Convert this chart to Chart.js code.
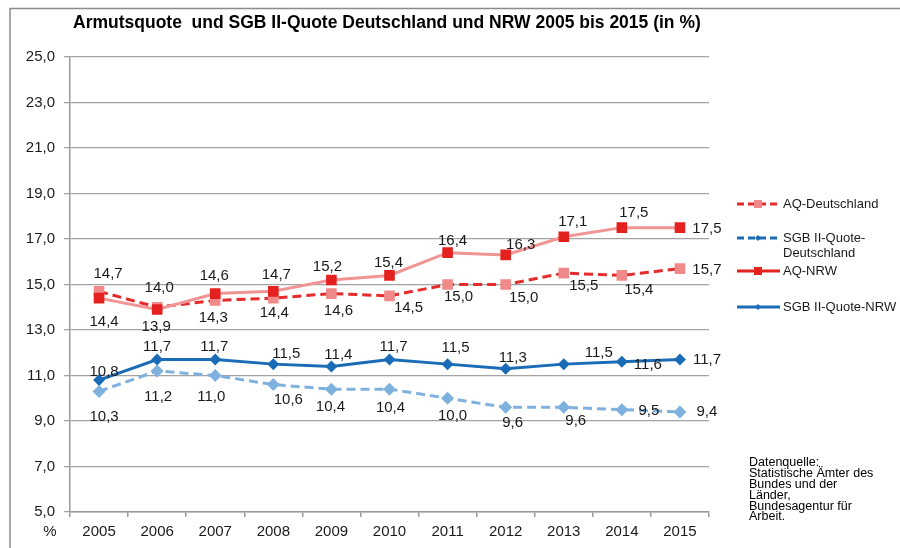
<!DOCTYPE html>
<html lang="de">
<head>
<meta charset="utf-8">
<title>Armutsquote und SGB II-Quote</title>
<script src="https://cdn.jsdelivr.net/npm/chart.js@4.4.1/dist/chart.umd.min.js"></script>
<style>
  html, body { margin: 0; padding: 0; background: #fff; }
  #chart { display: block; }
</style>
</head>
<body>
<canvas id="chart" width="900" height="548"></canvas>
<script>
// Data
const years = ['2005', '2006', '2007', '2008', '2009', '2010', '2011', '2012', '2013', '2014', '2015'];
const aqDeutschland = [14.7, 14.0, 14.3, 14.4, 14.6, 14.5, 15.0, 15.0, 15.5, 15.4, 15.7];
const sgbDeutschland = [10.3, 11.2, 11.0, 10.6, 10.4, 10.4, 10.0, 9.6, 9.6, 9.5, 9.4];
const aqNrw = [14.4, 13.9, 14.6, 14.7, 15.2, 15.4, 16.4, 16.3, 17.1, 17.5, 17.5];
const sgbNrw = [10.8, 11.7, 11.7, 11.5, 11.4, 11.7, 11.5, 11.3, 11.5, 11.6, 11.7];

const titleText = 'Armutsquote  und SGB II-Quote Deutschland und NRW 2005 bis 2015 (in %)';
const sourceLines = ['Datenquelle:', 'Statistische Ämter des', 'Bundes und der', 'Länder,', 'Bundesagentur für', 'Arbeit.'];

// Label offsets (px) from each point, as placed in the original
const offAqD = [[9,-17],[2,-19],[-2,17],[1,15],[7,17],[19,12],[11,12],[18,13],[20,13],[17,14],[27,1]];
const offSgbD = [[5,25],[1,26],[-4,21],[15,15],[-1,18],[1,19],[5,18],[7,16],[12,14],[27,1],[27,0]];
const offAqN = [[5,24],[-1,17],[-1,-18],[3,-16],[-4,-13],[-1,-13],[5,-12],[15,-10],[9,-15],[12,-15],[27,1]];
const offSgbN = [[5,-8],[0,-13],[-1,-13],[13,-10],[7,-12],[4,-13],[8,-16],[7,-11],[35,-11],[26,3],[27,0]];

const RED = '#e3221f';
const PINK_LINE = '#f19494';
const PINK_MARK = '#f08a8a';
const BLUE = '#1b6cb6';
const LIGHT_BLUE = '#7fb1de';
const TXT = '#1a1a1a';
const FONT = '"Liberation Sans", Arial, sans-serif';

const fmt = v => v.toFixed(1).replace('.', ',');

// Draws value labels next to points
const valueLabels = {
    id: 'valueLabels',
    afterDatasetsDraw(chart) {
        const ctx = chart.ctx;
        ctx.save();
        ctx.font = '15px ' + FONT;
        ctx.fillStyle = TXT;
        ctx.textAlign = 'center';
        ctx.textBaseline = 'middle';
        chart.data.datasets.forEach((ds, i) => {
            const meta = chart.getDatasetMeta(i);
            meta.data.forEach((pt, j) => {
                const o = ds.labelOffsets[j];
                ctx.fillText(fmt(ds.data[j]), pt.x + o[0], pt.y + o[1]);
            });
        });
        ctx.restore();
    }
};

// Frame, title, legend, source note and the % sign
const extras = {
    id: 'extras',
    beforeDraw(chart) {
        const ctx = chart.ctx;
        ctx.save();
        ctx.fillStyle = '#fff';
        ctx.fillRect(0, 0, chart.width, chart.height);
        ctx.strokeStyle = '#8c8c8c';
        ctx.lineWidth = 1.5;
        ctx.beginPath();
        ctx.moveTo(10, 548);
        ctx.lineTo(10, 8.5);
        ctx.lineTo(900, 8.5);
        ctx.stroke();
        ctx.restore();
    },
    afterDraw(chart) {
        const ctx = chart.ctx;
        ctx.save();

        // title
        ctx.fillStyle = '#000';
        ctx.font = 'bold 17.5px ' + FONT;
        ctx.textAlign = 'left';
        ctx.textBaseline = 'alphabetic';
        ctx.fillText(titleText, 73, 28);

        // % under the y axis
        ctx.font = '15px ' + FONT;
        ctx.fillStyle = TXT;
        ctx.textAlign = 'center';
        ctx.textBaseline = 'middle';
        ctx.fillText('%', 50, 532);

        // legend
        const items = [
            { y: 204, color: '#e52b2b', dash: [7, 4], mark: 'rect', markColor: PINK_MARK, text: ['AQ-Deutschland'] },
            { y: 238, color: BLUE, dash: [7, 4], mark: 'rectRot', markColor: BLUE, text: ['SGB II-Quote-', 'Deutschland'] },
            { y: 271, color: RED, dash: [], mark: 'rect', markColor: RED, text: ['AQ-NRW'] },
            { y: 307, color: BLUE, dash: [], mark: 'rectRot', markColor: BLUE, text: ['SGB II-Quote-NRW'] }
        ];
        items.forEach(it => {
            ctx.strokeStyle = it.color;
            ctx.lineWidth = 3;
            ctx.setLineDash(it.dash);
            ctx.beginPath();
            ctx.moveTo(737, it.y);
            ctx.lineTo(780, it.y);
            ctx.stroke();
            ctx.setLineDash([]);
            ctx.fillStyle = it.markColor;
            if (it.mark === 'rect') {
                ctx.fillRect(754, it.y - 4, 8, 8);
            } else {
                ctx.beginPath();
                ctx.moveTo(758, it.y - 3);
                ctx.lineTo(761, it.y);
                ctx.lineTo(758, it.y + 3);
                ctx.lineTo(755, it.y);
                ctx.closePath();
                ctx.fill();
            }
            ctx.fillStyle = TXT;
            ctx.font = '13px ' + FONT;
            ctx.textAlign = 'left';
            ctx.textBaseline = 'middle';
            it.text.forEach((t, k) => ctx.fillText(t, 783, it.y + k * 15));
        });

        // data source
        ctx.font = '12.5px ' + FONT;
        ctx.fillStyle = '#000';
        sourceLines.forEach((t, k) => ctx.fillText(t, 749, 463 + k * 10.8));

        ctx.restore();
    }
};

const datasets = [
    {
        label: 'AQ-NRW',
        data: aqNrw,
        labelOffsets: offAqN,
        borderColor: PINK_LINE,
        borderWidth: 3,
        pointStyle: 'rect',
        pointRadius: 7.5,
        pointBackgroundColor: RED,
        pointBorderColor: RED,
        pointBorderWidth: 0,
        order: 0
    },
    {
        label: 'SGB II-Quote-NRW',
        data: sgbNrw,
        labelOffsets: offSgbN,
        borderColor: BLUE,
        borderWidth: 3,
        pointStyle: 'rectRot',
        pointRadius: 6,
        pointBackgroundColor: BLUE,
        pointBorderColor: BLUE,
        pointBorderWidth: 0,
        order: 0
    },
    {
        label: 'AQ-Deutschland',
        data: aqDeutschland,
        labelOffsets: offAqD,
        borderColor: '#e52b2b',
        borderWidth: 3,
        borderDash: [9, 5],
        pointStyle: 'rect',
        pointRadius: 7.5,
        pointBackgroundColor: PINK_MARK,
        pointBorderColor: PINK_MARK,
        pointBorderWidth: 0,
        order: 1
    },
    {
        label: 'SGB II-Quote-Deutschland',
        data: sgbDeutschland,
        labelOffsets: offSgbD,
        borderColor: LIGHT_BLUE,
        borderWidth: 3,
        borderDash: [9, 5],
        pointStyle: 'rectRot',
        pointRadius: 6.5,
        pointBackgroundColor: LIGHT_BLUE,
        pointBorderColor: LIGHT_BLUE,
        pointBorderWidth: 0,
        order: 1
    }
];

new Chart(document.getElementById('chart'), {
    type: 'line',
    data: { labels: years, datasets },
    options: {
        responsive: false,
        animation: false,
        devicePixelRatio: 1,
        layout: { padding: { top: 57, right: 191, bottom: 0, left: 0 } },
        plugins: { legend: { display: false }, tooltip: { enabled: false }, title: { display: false } },
        elements: { line: { tension: 0 } },
        scales: {
            x: {
                type: 'category',
                offset: true,
                afterFit: s => { s.height = 36; },
                grid: { offset: true, drawOnChartArea: false, drawTicks: true, tickLength: 5, color: '#9a9a9a', lineWidth: 1.5 },
                border: { color: '#9a9a9a', width: 1.5 },
                ticks: { color: TXT, font: { family: FONT, size: 15 }, padding: 6, maxRotation: 0, autoSkip: false }
            },
            y: {
                min: 5,
                max: 25,
                afterFit: s => { s.width = 70; },
                grid: { color: '#a3a3a3', lineWidth: 1.3, drawTicks: true, tickLength: 6 },
                border: { color: '#9a9a9a', width: 1.5 },
                ticks: { stepSize: 2, color: TXT, font: { family: FONT, size: 15 }, padding: 9, callback: v => fmt(v) }
            }
        }
    },
    plugins: [extras, valueLabels]
});
</script>
</body>
</html>
